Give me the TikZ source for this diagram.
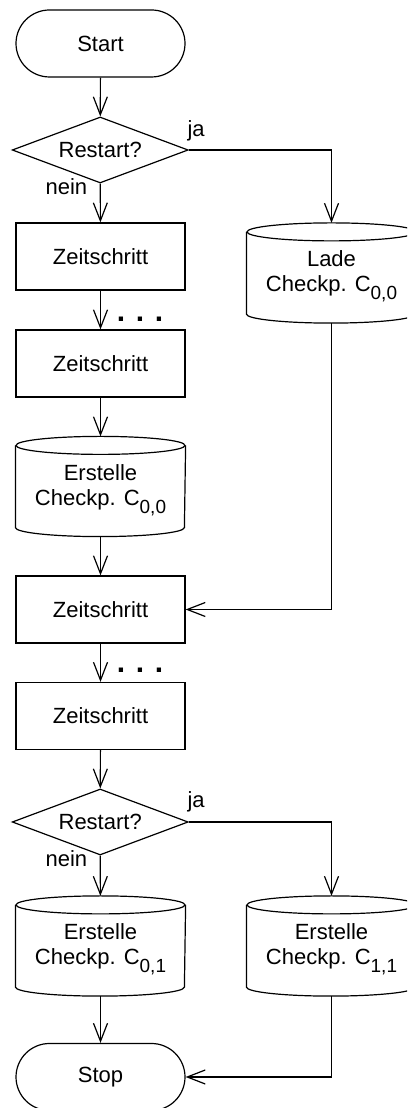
\documentclass[tikz,border=0pt]{standalone}
\usepackage{fontspec}
\setmainfont{Liberation Sans}
\usetikzlibrary{shapes.geometric,arrows.meta}
\newcommand{\sub}[1]{\raisebox{-8pt}{\fontsize{19}{19}\selectfont #1}}
\newcommand{\topstrut}{\rule{0pt}{23pt}}
\begin{document}
\begin{tikzpicture}[x=1pt,y=1pt,
  line width=1.2pt,
  every node/.style={font=\fontsize{22}{25}\selectfont, inner sep=0pt},
  term/.style={draw, rectangle, rounded corners=33.5pt, minimum width=169pt, minimum height=67pt},
  proc/.style={draw, rectangle, minimum width=169pt, minimum height=67pt},
  decis/.style={draw, diamond, aspect=2.67, minimum width=176pt, minimum height=66pt},
  cylbox/.style={rectangle, minimum width=169pt, minimum height=99pt, align=center},
  lbl/.style={anchor=base west},
  dots/.style={font=\fontsize{30}{30}\selectfont\bfseries},
  arr/.style={-{Straight Barb[length=18pt,width=14pt]}}
]
\useasboundingbox (0,0) rectangle (407,1108);
\clip (0,0) rectangle (407,1108);

\newcommand{\drawcyl}[1]{%
  \draw ([yshift=-9pt]#1.north) ellipse [x radius=84.5pt, y radius=9pt];
  \draw ([yshift=-9pt]#1.north west) -- ([yshift=9pt]#1.south west)
        arc [start angle=180, end angle=360, x radius=84.5pt, y radius=9pt]
        -- ([yshift=-9pt]#1.north east);}

\node[term] (start) at (100.5,1064.5) {Start};
\node[decis] (d1) at (100.2,958) {Restart?};
\node[proc] (z1) at (100.5,851.5) {Zeitschritt};
\node[cylbox] (lade) at (331.5,835) {\topstrut Lade\\Checkp. C\sub{0,0}};
\node[proc] (z2) at (100.5,744.5) {Zeitschritt};
\node[cylbox] (e00) at (100.5,621.5) {\topstrut Erstelle\\Checkp. C\sub{0,0}};
\node[proc] (z3) at (100.5,498.5) {Zeitschritt};
\node[proc] (z4) at (100.5,392) {Zeitschritt};
\node[decis] (d2) at (100.2,286) {Restart?};
\node[cylbox] (e01) at (100.5,162) {\topstrut Erstelle\\Checkp. C\sub{0,1}};
\node[cylbox] (e11) at (331.5,162) {\topstrut Erstelle\\Checkp. C\sub{1,1}};
\node[term] (stop) at (100.5,31) {Stop};

\drawcyl{lade}
\drawcyl{e00}
\drawcyl{e01}
\drawcyl{e11}

\node[lbl] (ja1) at (187,971) {ja};
\node[lbl] (nein1) at (45,913) {nein};
\node[lbl] (ja2) at (187,300) {ja};
\node[lbl] (nein2) at (45,241.5) {nein};

\node[dots] (dots1) at (140,789) {.\hspace{10.7pt}.\hspace{10.7pt}.};
\node[dots] (dots2) at (140,438) {.\hspace{10.7pt}.\hspace{10.7pt}.};

\draw[arr] (start) -- (d1);
\draw[arr] (d1) -- (z1);
\draw[arr] (d1.east) -| (lade.north);
\draw[arr] (z1) -- (z2);
\draw[arr] (z2) -- (e00);
\draw[arr] (e00) -- (z3);
\draw[arr] (lade.south) |- (z3.east);
\draw[arr] (z3) -- (z4);
\draw[arr] (z4) -- (d2);
\draw[arr] (d2) -- (e01);
\draw[arr] (d2.east) -| (e11.north);
\draw[arr] (e01) -- (stop);
\draw[arr] (e11.south) |- (stop.east);
\end{tikzpicture}
\end{document}
